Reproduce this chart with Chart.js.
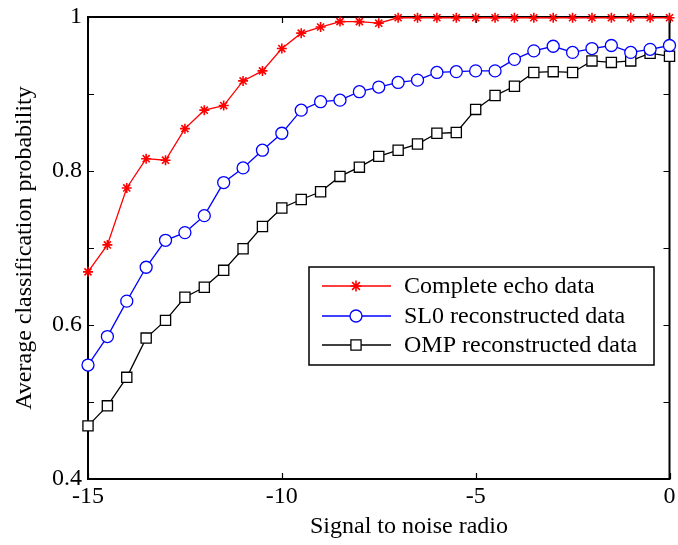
<!DOCTYPE html>
<html>
<head>
<meta charset="utf-8">
<script src="https://cdn.jsdelivr.net/npm/chart.js@4.4.1/dist/chart.umd.min.js"></script>
<style>
html,body{margin:0;padding:0;background:#fff;}
#wrap{width:678px;height:545px;position:relative;}
</style>
</head>
<body>
<div id="wrap"><canvas id="c" width="678" height="545"></canvas></div>
<script>
// ---- data ----
const snr = [-15,-14.5,-14,-13.5,-13,-12.5,-12,-11.5,-11,-10.5,-10,-9.5,-9,-8.5,-8,-7.5,-7,-6.5,-6,-5.5,-5,-4.5,-4,-3.5,-3,-2.5,-2,-1.5,-1,-0.5,0];
const completeEcho = [0.669,0.704,0.778,0.816,0.814,0.855,0.879,0.885,0.917,0.930,0.959,0.979,0.987,0.994,0.994,0.992,0.999,0.999,0.999,0.999,0.999,0.999,0.999,0.999,0.999,0.999,0.999,0.999,0.999,0.999,0.999];
const sl0Recon = [0.548,0.585,0.631,0.675,0.710,0.720,0.742,0.785,0.804,0.827,0.849,0.879,0.890,0.892,0.903,0.909,0.915,0.918,0.928,0.929,0.930,0.930,0.945,0.956,0.962,0.954,0.959,0.963,0.954,0.958,0.963];
const ompRecon = [0.469,0.495,0.532,0.583,0.606,0.636,0.649,0.671,0.699,0.728,0.752,0.763,0.773,0.793,0.805,0.819,0.827,0.835,0.849,0.850,0.880,0.898,0.910,0.928,0.929,0.928,0.943,0.941,0.943,0.953,0.949];
const seriesLabels = ['Complete echo data','SL0 reconstructed data','OMP reconstructed data'];
const xTickValues = [-15,-10,-5,0];
const yTickLabels = ['0.4','0.6','0.8','1'];

const FONT = "'Liberation Serif', 'Times New Roman', serif";
const toXY = arr => arr.map((v,i)=>({x:snr[i], y:v}));

function drawMarker(ctx, style, r, x, y){
  ctx.beginPath();
  if (style === 'circle'){
    ctx.arc(x, y, r, 0, Math.PI*2);
    ctx.fill(); ctx.stroke();
  } else if (style === 'rect'){
    const s = Math.SQRT1_2 * r;
    ctx.rect(x-s, y-s, 2*s, 2*s);
    ctx.fill(); ctx.stroke();
  } else {
    const d = Math.cos(Math.PI/4)*r;
    ctx.moveTo(x-r,y); ctx.lineTo(x+r,y);
    ctx.moveTo(x,y-r); ctx.lineTo(x,y+r);
    ctx.moveTo(x-d,y-d); ctx.lineTo(x+d,y+d);
    ctx.moveTo(x-d,y+d); ctx.lineTo(x+d,y-d);
    ctx.stroke();
  }
}

const frameAndTicks = {
  id:'frameAndTicks',
  beforeDatasetsDraw(chart){
    const {ctx, chartArea:a, scales:{x,y}} = chart;
    ctx.save();
    ctx.strokeStyle = '#000';
    ctx.lineWidth = 1.2;
    const L = 6;
    ctx.beginPath();
    x.ticks.forEach(t=>{
      const px = Math.round(x.getPixelForValue(t.value))+0.5;
      ctx.moveTo(px, a.bottom); ctx.lineTo(px, a.bottom-L);
      ctx.moveTo(px, a.top); ctx.lineTo(px, a.top+L);
    });
    y.ticks.forEach(t=>{
      const py = Math.round(y.getPixelForValue(t.value))+0.5;
      ctx.moveTo(a.left, py); ctx.lineTo(a.left+L, py);
      ctx.moveTo(a.right, py); ctx.lineTo(a.right-L, py);
    });
    ctx.stroke();
    ctx.lineWidth = 2;
    ctx.strokeRect(a.left, a.top, a.right-a.left, a.bottom-a.top);
    ctx.restore();
  },
  afterDraw(chart){
    const {ctx, chartArea:a, scales:{x,y}} = chart;
    ctx.save();
    // axis titles
    ctx.fillStyle = '#000';
    ctx.font = '24px ' + FONT;
    ctx.textAlign = 'center';
    ctx.textBaseline = 'middle';
    ctx.fillText(x.options.title.text, 409, 527);
    ctx.translate(25, (a.top+a.bottom)/2);
    ctx.rotate(-Math.PI/2);
    ctx.fillText(y.options.title.text, 0, 0);
    ctx.restore();

    // legend
    ctx.save();
    const bx = 309, by = 267, bw = 345, bh = 98;
    ctx.fillStyle = '#fff';
    ctx.fillRect(bx, by, bw, bh);
    ctx.strokeStyle = '#000';
    ctx.lineWidth = 1.5;
    ctx.strokeRect(bx, by, bw, bh);
    const rows = [286, 316, 345];
    chart.data.datasets.forEach((ds, i)=>{
      const yy = rows[i];
      ctx.strokeStyle = ds.borderColor;
      ctx.lineWidth = ds.borderWidth;
      ctx.beginPath();
      ctx.moveTo(322, yy); ctx.lineTo(391, yy);
      ctx.stroke();
      ctx.fillStyle = ds.pointBackgroundColor;
      ctx.strokeStyle = ds.borderColor;
      ctx.lineWidth = ds.pointBorderWidth;
      drawMarker(ctx, ds.pointStyle, ds.pointStyle === 'star' ? 5.5 : ds.pointRadius, 356, yy);
      ctx.fillStyle = '#000';
      ctx.font = '24px ' + FONT;
      ctx.textAlign = 'left';
      ctx.textBaseline = 'middle';
      ctx.fillText(ds.label, 404, yy+1);
    });
    ctx.restore();
  }
};

new Chart(document.getElementById('c'), {
  type: 'line',
  data: {
    datasets: [
      {label: seriesLabels[0], data: toXY(completeEcho), borderColor:'#ff0000', backgroundColor:'#ff0000',
       pointStyle:'star', pointRadius:5, pointBorderWidth:1.6, pointBackgroundColor:'#ff0000', pointBorderColor:'#ff0000', borderWidth:1.3, clip:false, tension:0},
      {label: seriesLabels[1], data: toXY(sl0Recon), borderColor:'#0000ff', backgroundColor:'#ffffff',
       pointStyle:'circle', pointRadius:6, pointBorderWidth:1.3, pointBackgroundColor:'#ffffff', pointBorderColor:'#0000ff', borderWidth:1.3, clip:false, tension:0},
      {label: seriesLabels[2], data: toXY(ompRecon), borderColor:'#000000', backgroundColor:'#ffffff',
       pointStyle:'rect', pointRadius:7.2, pointBorderWidth:1.3, pointBackgroundColor:'#ffffff', pointBorderColor:'#000000', borderWidth:1.3, clip:false, tension:0}
    ]
  },
  options: {
    responsive: false,
    animation: false,
    devicePixelRatio: 1,
    layout: {padding: {top: 17, right: 6, left: 0, bottom: 0}},
    plugins: {legend: {display:false}, tooltip: {enabled:false}},
    elements: {line: {fill:false}},
    scales: {
      x: {
        type: 'linear', min: -15, max: 0,
        afterFit: s => { s.height = 66; s.paddingLeft = 0; s.paddingRight = 0; },
        afterBuildTicks: s => { s.ticks = xTickValues.map(v=>({value:v})); },
        ticks: {color:'#000', font:{family:FONT, size:24}, padding:3, maxRotation:0, autoSkip:false,
                callback: v => String(v)},
        grid: {display:false, drawTicks:false},
        border: {display:false},
        title: {display:false, text:'Signal to noise radio'}
      },
      y: {
        min: 0.4, max: 1,
        afterFit: s => { s.width = 88; s.paddingTop = 0; s.paddingBottom = 0; },
        ticks: {color:'#000', font:{family:FONT, size:24}, padding:6, stepSize:0.1, autoSkip:false,
                callback: v => { const r = Math.round(v*10); if (r % 2) return ''; return yTickLabels[(r-4)/2]; }},
        grid: {display:false, drawTicks:false},
        border: {display:false},
        title: {display:false, text:'Average classification probability'}
      }
    }
  },
  plugins: [frameAndTicks]
});
</script>
</body>
</html>
